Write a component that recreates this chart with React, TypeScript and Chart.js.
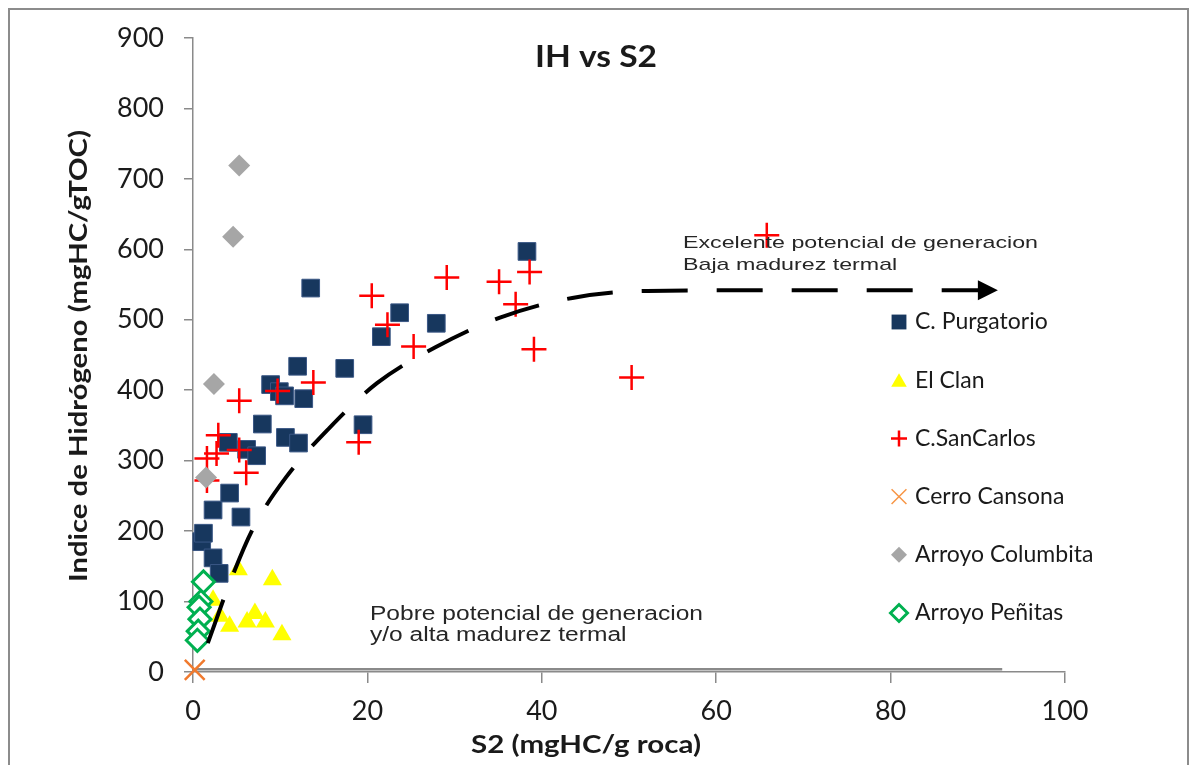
import React, { useEffect, useRef } from 'react';
import { Chart, registerables } from 'chart.js';
import { drawPoint } from 'chart.js/helpers';

Chart.register(...registerables);

// ---- data ----
const purgatorioX = [1.0, 1.2, 2.3, 3.0, 2.3, 4.2, 5.5, 4.05, 6.15, 7.3, 7.95, 10.6, 12.1, 8.9, 9.9, 10.5, 12.7, 12.0, 17.4, 13.5, 19.5, 21.6, 23.7, 27.9, 38.3];
const purgatorioY = [185, 197, 162, 140, 230, 254, 220, 326, 316, 307, 352, 333, 325, 408, 398, 392, 388, 434, 431, 545, 351, 476, 510, 495, 597];

const clanX = [5.2, 9.1, 2.3, 3.1, 4.2, 6.2, 7.1, 8.3, 10.2];
const clanY = [145, 131, 102, 79, 65, 71, 83, 71, 53];

const sanCarlosX = [1.6, 1.6, 2.7, 2.9, 5.3, 6.1, 5.3, 9.7, 13.8, 19.0, 20.5, 22.3, 25.3, 29.1, 35.1, 37.0, 38.6, 39.1, 50.3, 65.8];
const sanCarlosY = [272, 303, 310, 336, 315, 283, 385, 399, 411, 326, 534, 493, 462, 560, 554, 522, 568, 458, 418, 620];

const cansonaX = [0.2];
const cansonaY = [3];

const columbitaX = [5.3, 4.6, 2.4, 1.5];
const columbitaY = [719, 618, 409, 276];

const penitasX = [1.2, 0.9, 0.7, 0.8, 0.6, 0.5];
const penitasY = [128, 100, 92, 75, 58, 45];

// hand-drawn trend arrow
const curveX = [1.7, 4.2, 6.9, 10.7, 15.6, 21.1, 27.8, 35.2, 43.5, 52.1, 70, 92.3];
const curveY = [41, 126, 204, 277, 346, 410, 461, 503, 531, 541, 542, 542];

// baseline line
const baseX = [0, 92.8];
const baseY = [4, 4];

const xTicks = [0, 20, 40, 60, 80, 100];
const yTicks = [0, 100, 200, 300, 400, 500, 600, 700, 800, 900];

const seriesNames = ['C. Purgatorio', 'El Clan', 'C.SanCarlos', 'Cerro Cansona', 'Arroyo Columbita', 'Arroyo Peñitas'];

const toPts = (xs: number[], ys: number[]) => xs.map((x, i) => ({ x, y: ys[i] }));

// legend marker styles (smaller than plot markers)
const legendMarkers = [
  { pointStyle: 'rect', radius: 10.5, fill: '#17375E', stroke: '#17375E', bw: 0 },
  { pointStyle: 'triangle', radius: 9, fill: '#FFFF00', stroke: '#FFFF00', bw: 0 },
  { pointStyle: 'cross', radius: 8, fill: '#FF0000', stroke: '#FF0000', bw: 2.5 },
  { pointStyle: 'crossRot', radius: 10.5, fill: '#F79646', stroke: '#F79646', bw: 1.5 },
  { pointStyle: 'rectRot', radius: 8, fill: '#A6A6A6', stroke: '#A6A6A6', bw: 0 },
  { pointStyle: 'rectRot', radius: 8.5, fill: '#FFFFFF', stroke: '#00B050', bw: 3 },
];

function fitText(
  ctx: CanvasRenderingContext2D,
  text: string,
  x: number,
  y: number,
  font: string,
  scaleX: number,
  align: CanvasTextAlign,
  color: string,
  rotate = 0
) {
  ctx.save();
  ctx.font = font;
  ctx.fillStyle = color;
  ctx.translate(x, y);
  if (rotate) ctx.rotate(rotate);
  ctx.scale(scaleX, 1);
  ctx.textAlign = align;
  ctx.textBaseline = 'middle';
  ctx.fillText(text, 0, 0);
  ctx.restore();
}

function scaleFor(ctx: CanvasRenderingContext2D, text: string, font: string, width: number) {
  ctx.save();
  ctx.font = font;
  const w = ctx.measureText(text).width;
  ctx.restore();
  return width / w;
}

const decorPlugin = {
  id: 'decor',
  afterDatasetsDraw(chart: any) {
    const ctx: CanvasRenderingContext2D = chart.ctx;
    // arrow head on curve end
    const meta = chart.getDatasetMeta(7);
    const pts = meta.data;
    if (pts && pts.length) {
      const p = pts[pts.length - 1];
      ctx.save();
      ctx.fillStyle = '#000';
      ctx.beginPath();
      ctx.moveTo(p.x, p.y);
      ctx.lineTo(p.x - 20, p.y - 10);
      ctx.lineTo(p.x - 20, p.y + 10);
      ctx.closePath();
      ctx.fill();
      ctx.restore();
    }
  },
  afterDraw(chart: any) {
    const ctx: CanvasRenderingContext2D = chart.ctx;
    const textColor = '#1a1a1a';
    // title
    const tFont = 'bold 30px Lato';
    fitText(ctx, 'IH vs S2', 586, 47, tFont, scaleFor(ctx, 'IH vs S2', tFont, 122), 'center', textColor);
    // y title
    const yt = 'Indice de Hidrógeno (mgHC/gTOC)';
    const ytFont = 'bold 25px Lato';
    fitText(ctx, yt, 69, 346, ytFont, scaleFor(ctx, yt, ytFont, 452), 'center', textColor, -Math.PI / 2);
    // x title
    const xt = 'S2 (mgHC/g roca)';
    const xtFont = 'bold 25px Lato';
    fitText(ctx, xt, 576, 735, xtFont, scaleFor(ctx, xt, xtFont, 230), 'center', textColor);
    // annotations
    const aFont = '20px "Liberation Sans"';
    const a1 = 'Pobre potencial de generacion';
    const s1 = scaleFor(ctx, a1, aFont, 333);
    fitText(ctx, a1, 360, 604, aFont, s1, 'left', '#262626');
    fitText(ctx, 'y/o alta madurez termal', 360, 625, aFont, s1, 'left', '#262626');
    const bFont = '17px "Liberation Sans"';
    const b1 = 'Excelente potencial de generacion';
    const s2 = scaleFor(ctx, b1, bFont, 355);
    fitText(ctx, b1, 673, 233, bFont, s2, 'left', '#262626');
    fitText(ctx, 'Baja madurez termal', 673, 255, bFont, s2, 'left', '#262626');

    // legend
    const markerX = 889;
    const textX = 905;
    const y0 = 312;
    const gap = 58.2;
    seriesNames.forEach((name, i) => {
      const m = legendMarkers[i];
      const y = y0 + gap * i;
      ctx.save();
      ctx.fillStyle = m.fill;
      ctx.strokeStyle = m.stroke;
      ctx.lineWidth = m.bw;
      drawPoint(ctx, { pointStyle: m.pointStyle as any, rotation: 0, radius: m.radius, borderWidth: m.bw }, markerX, y + (m.pointStyle === 'triangle' ? 2 : 0));
      ctx.restore();
      ctx.save();
      ctx.font = '23px Lato';
      ctx.fillStyle = textColor;
      ctx.textAlign = 'left';
      ctx.textBaseline = 'middle';
      ctx.fillText(name, textX, y);
      ctx.restore();
    });
  },
};

export default function App() {
  const ref = useRef<HTMLCanvasElement | null>(null);

  useEffect(() => {
    if (!ref.current) return;
    const gray = '#8a8a8a';
    const chart = new Chart(ref.current, {
      type: 'scatter',
      data: {
        datasets: [
          {
            label: seriesNames[0],
            data: toPts(purgatorioX, purgatorioY),
            pointStyle: 'rect',
            pointRadius: 12.5,
            backgroundColor: '#17375E',
            borderColor: '#3a5785',
            borderWidth: 1,
            order: 6,
            clip: false,
          },
          {
            label: seriesNames[1],
            data: toPts(clanX, clanY),
            pointStyle: 'triangle',
            pointRadius: 11,
            backgroundColor: '#FFFF00',
            borderColor: '#FFFF00',
            borderWidth: 0,
            order: 5,
            clip: false,
          },
          {
            label: seriesNames[2],
            data: toPts(sanCarlosX, sanCarlosY),
            pointStyle: 'cross',
            pointRadius: 12.5,
            backgroundColor: '#FF0000',
            borderColor: '#FF0000',
            borderWidth: 2.5,
            order: 4,
            clip: false,
          },
          {
            label: seriesNames[3],
            data: toPts(cansonaX, cansonaY),
            pointStyle: 'crossRot',
            pointRadius: 14,
            backgroundColor: '#F79646',
            borderColor: '#F07A2E',
            borderWidth: 2.5,
            order: 3,
            clip: false,
          },
          {
            label: seriesNames[4],
            data: toPts(columbitaX, columbitaY),
            pointStyle: 'rectRot',
            pointRadius: 11,
            backgroundColor: '#A6A6A6',
            borderColor: '#A6A6A6',
            borderWidth: 0,
            order: 2,
            clip: false,
          },
          {
            label: seriesNames[5],
            data: toPts(penitasX, penitasY),
            pointStyle: 'rectRot',
            pointRadius: 11,
            backgroundColor: '#FFFFFF',
            borderColor: '#00B050',
            borderWidth: 3,
            order: 1,
            clip: false,
          },
          {
            type: 'line',
            label: 'base',
            data: toPts(baseX, baseY),
            borderColor: gray,
            borderWidth: 2.5,
            pointRadius: 0,
            showLine: true,
            fill: false,
            order: 10,
            clip: false,
          } as any,
          {
            type: 'line',
            label: 'curve',
            data: toPts(curveX, curveY),
            borderColor: '#000000',
            borderWidth: 4,
            borderDash: [46, 29],
            borderCapStyle: 'butt',
            pointRadius: 0,
            showLine: true,
            fill: false,
            tension: 0.4,
            cubicInterpolationMode: 'monotone',
            order: 0,
            clip: false,
          } as any,
        ],
      },
      options: {
        responsive: false,
        animation: false,
        events: [],
        layout: { padding: { left: 0, top: 28, right: 122, bottom: 0 } },
        plugins: {
          legend: { display: false },
          title: { display: false },
          tooltip: { enabled: false },
        },
        scales: {
          x: {
            type: 'linear',
            min: 0,
            max: 100,
            afterBuildTicks: (s: any) => {
              s.ticks = xTicks.map((v) => ({ value: v }));
            },
            ticks: {
              font: { family: 'Lato', size: 27 },
              color: '#1a1a1a',
              padding: 12,
              maxRotation: 0,
            },
            grid: { drawOnChartArea: false, drawTicks: true, tickLength: 11, color: gray, lineWidth: 1.5 },
            border: { display: true, color: gray, width: 1.5 },
            afterFit: (s: any) => {
              s.height = 95;
              s.paddingLeft = 0;
              s.paddingRight = 0;
            },
          },
          y: {
            type: 'linear',
            min: 0,
            max: 900,
            afterBuildTicks: (s: any) => {
              s.ticks = yTicks.map((v) => ({ value: v }));
            },
            ticks: {
              font: { family: 'Lato', size: 27 },
              color: '#1a1a1a',
              padding: 20,
            },
            grid: { drawOnChartArea: false, drawTicks: true, tickLength: 9, color: gray, lineWidth: 1.5 },
            border: { display: true, color: gray, width: 1.5 },
            afterFit: (s: any) => {
              s.width = 183;
              s.paddingTop = 0;
              s.paddingBottom = 0;
            },
          },
        },
      },
      plugins: [decorPlugin],
    });
    return () => chart.destroy();
  }, []);

  return (
    <div
      style={{
        position: 'fixed',
        left: 8,
        top: 8,
        width: 1181,
        height: 780,
        boxSizing: 'border-box',
        borderLeft: '2px solid #8c8c8c',
        borderTop: '2px solid #8c8c8c',
        borderRight: '2px solid #8c8c8c',
        background: '#fff',
      }}
    >
      <canvas ref={ref} width={1177} height={757} style={{ display: 'block' }} />
    </div>
  );
}
